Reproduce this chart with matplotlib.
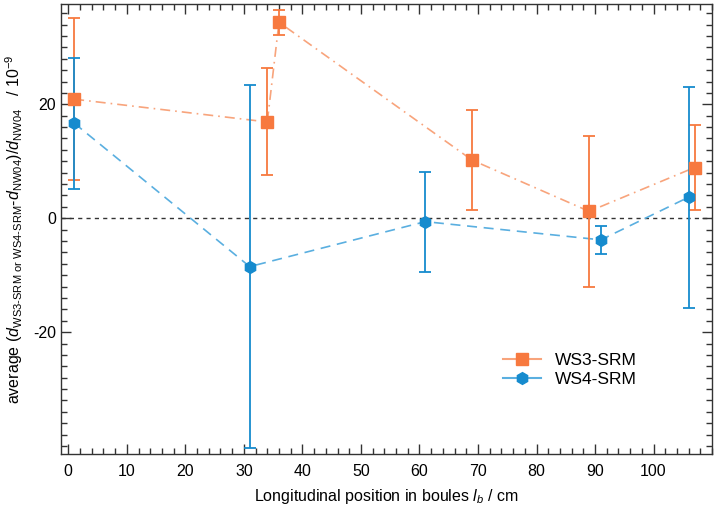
import matplotlib
matplotlib.use("Agg")
import matplotlib.pyplot as plt
from matplotlib.ticker import MultipleLocator, FixedLocator

plt.rcParams['font.family'] = ['Liberation Sans', 'DejaVu Sans']
plt.rcParams['mathtext.fontset'] = 'custom'
plt.rcParams['mathtext.rm'] = 'Liberation Sans'
plt.rcParams['mathtext.it'] = 'Liberation Sans:italic'
plt.rcParams['axes.unicode_minus'] = False

# WS3-SRM
ws3_x = [1, 34, 36, 69, 89, 107]
ws3_y = [20.9, 16.9, 34.4, 10.2, 1.2, 8.9]
ws3_err = [14.2, 9.4, 2.2, 8.8, 13.3, 7.5]

# WS4-SRM
ws4_x = [1, 31, 61, 91, 106]
ws4_y = [16.7, -8.5, -0.6, -3.8, 3.7]
ws4_err = [11.5, 31.9, 8.8, 2.5, 19.4]

x_ticks = [0, 10, 20, 30, 40, 50, 60, 70, 80, 90, 100]
y_ticks = [-20, 0, 20]

orange = '#F7793F'
orange_l = '#F8A47C'
blue = '#168BCE'
blue_l = '#5AAFE0'

fig = plt.figure(figsize=(7.2, 5.08), dpi=100)
ax = fig.add_axes([0.0843, 0.1063, 0.9047, 0.8857])

ax.axhline(0, color='#333333', ls=(0, (3, 3)), lw=1.0, zorder=1)

# connecting lines
ax.plot(ws3_x, ws3_y, color=orange_l, ls=(0, (6, 3, 1, 3)), lw=1.2, zorder=2)
ax.plot(ws4_x, ws4_y, color=blue_l, ls=(0, (6, 4)), lw=1.2, zorder=2)

ax.errorbar(ws3_x, ws3_y, yerr=ws3_err, fmt='none', ecolor=orange, elinewidth=1.3,
            capsize=4.5, capthick=1.3, zorder=3)
ax.errorbar(ws4_x, ws4_y, yerr=ws4_err, fmt='none', ecolor=blue, elinewidth=1.3,
            capsize=4.5, capthick=1.3, zorder=3)
ax.plot(ws3_x, ws3_y, ls='none', marker='s', ms=8.5, color=orange, zorder=4)
ax.plot(ws4_x, ws4_y, ls='none', marker='h', ms=8.5, color=blue, zorder=4)

# legend proxies
h3, = ax.plot([], [], color=orange_l, lw=1.5, marker='s', ms=8.5, mfc=orange, mec=orange)
h4, = ax.plot([], [], color=blue_l, lw=1.5, marker='h', ms=8.5, mfc=blue, mec=blue)
leg = ax.legend([h3, h4], ['WS3-SRM', 'WS4-SRM'], loc='upper left',
                bbox_to_anchor=(0.655, 0.26), frameon=False, fontsize=12.5,
                handlelength=2.2, handletextpad=0.8, labelspacing=0.25)

ax.set_xlim(-1.3, 110)
ax.set_ylim(-41.4, 37.6)

ax.xaxis.set_major_locator(FixedLocator(x_ticks))
ax.xaxis.set_minor_locator(MultipleLocator(2))
ax.yaxis.set_major_locator(FixedLocator(y_ticks))
ax.yaxis.set_minor_locator(MultipleLocator(2))
ax.tick_params(which='both', direction='in', top=True, right=True, colors='#333333',
               labelcolor='black', labelsize=11.5)
ax.tick_params(which='major', length=7, width=1)
ax.tick_params(which='minor', length=4, width=1)
ax.tick_params(axis='x', pad=7)
for s in ax.spines.values():
    s.set_color('#333333')
    s.set_linewidth(1.0)

ax.set_xlabel(r'Longitudinal position in boules $l_b$ / cm', fontsize=11.5, labelpad=6)
ax.set_ylabel(r'average ($d_{\mathrm{WS3\text{-}SRM\ or\ WS4\text{-}SRM}}$-$d_{\mathrm{NW04}}$)/$d_{\mathrm{NW04}}$   / 10$^{-9}$',
              fontsize=11.5, labelpad=6)

fig.savefig('out.png', dpi=100)
